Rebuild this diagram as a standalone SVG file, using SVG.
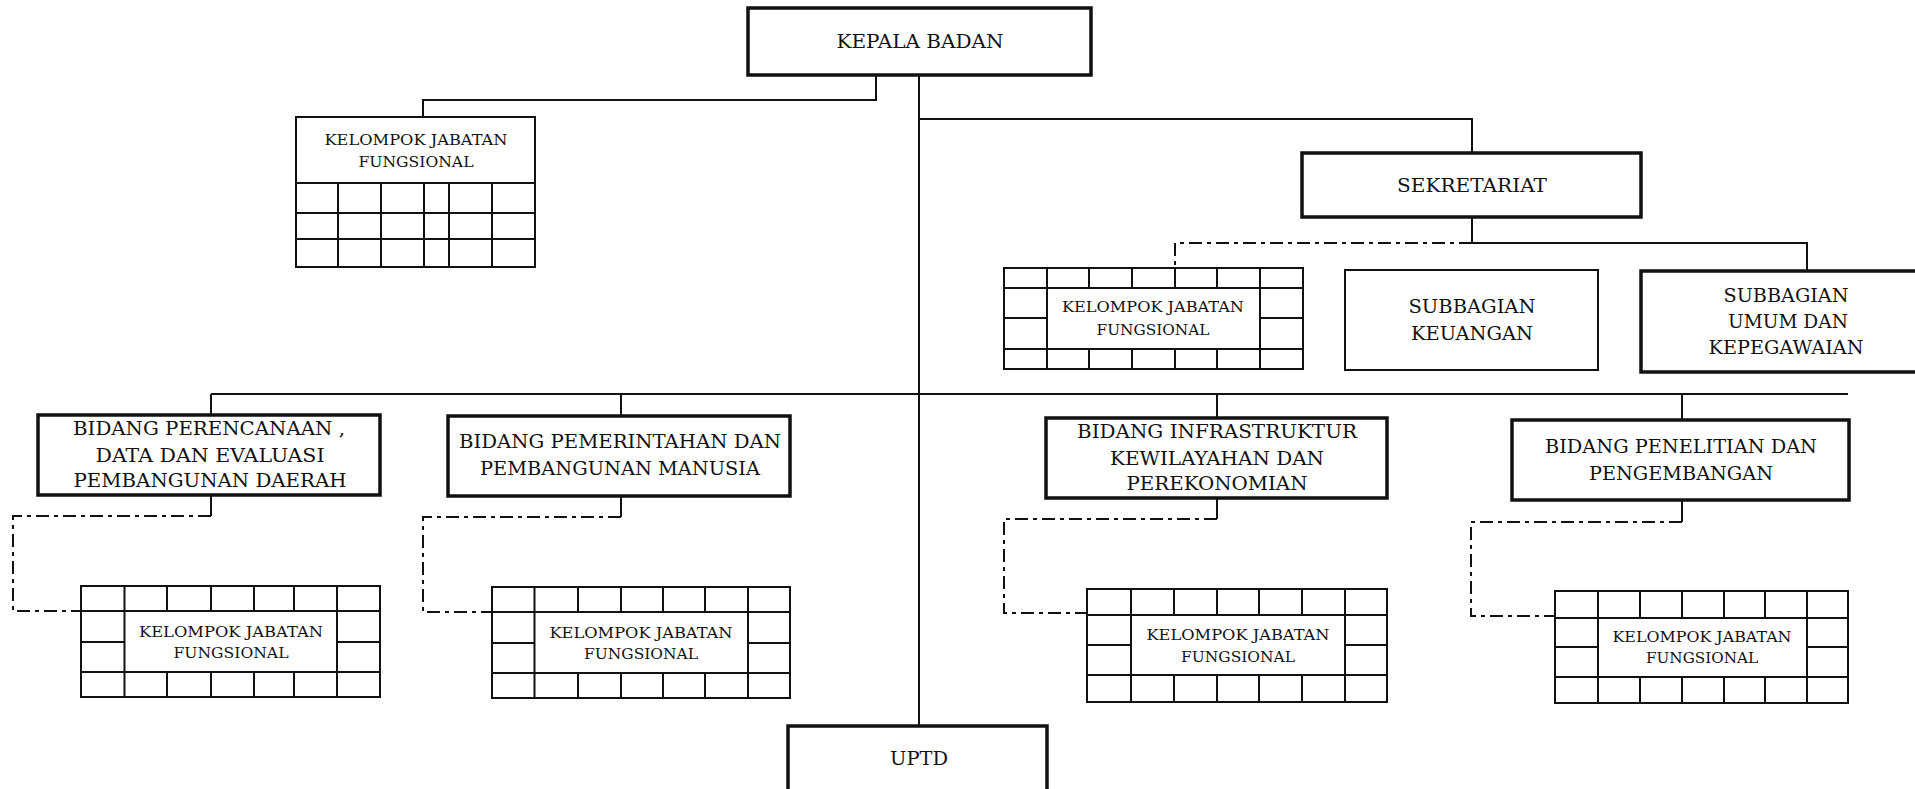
<svg xmlns="http://www.w3.org/2000/svg" width="1915" height="789" viewBox="0 0 1915 789">
<style>
.bx{fill:#fff;stroke:#111;stroke-width:3.5}
.bn{fill:#fff;stroke:#111;stroke-width:2}
.g{fill:none;stroke:#111;stroke-width:2}
.c{fill:none;stroke:#111;stroke-width:2}
.dd{stroke-dasharray:13 5 4 5}
.t{font-family:"DejaVu Serif","Liberation Serif",serif;font-size:18px;fill:#111;text-anchor:middle}
.s{font-size:14px}
</style>
<rect width="1915" height="789" fill="#fff"/>
<g id="connectors">
<path class="c" d="M876 75V100H423V117"/>
<path class="c" d="M919 75V726"/>
<path class="c" d="M919 119H1472V153"/>
<path class="c" d="M1472 217V243H1807V271"/>
<path class="c dd" d="M1472 243H1175V268"/>
<path class="c" d="M211 394H1848M211 394V415M621 394V416M1217 394V418M1682 394V420"/>
<path class="c" d="M211 495V516M621 496V517M1217 498V519M1682 500V522"/>
<path class="c dd" d="M211 516H13V611H81"/>
<path class="c dd" d="M621 517H423V612H492"/>
<path class="c dd" d="M1217 519H1004V613H1087"/>
<path class="c dd" d="M1682 522H1471V616H1555"/>
</g>
<g id="kepala-badan">
<rect class="bx" x="748" y="8" width="343" height="67"/>
<text class="t" x="920" y="48" textLength="167" lengthAdjust="spacingAndGlyphs">KEPALA BADAN</text>
</g>
<g id="kjf-kepala">
<rect class="bn" x="296" y="117" width="239" height="150"/>
<path class="g" d="M296 183H535M296 213H535M296 239H535M338 183V267M381 183V267M424 183V267M449 183V267M492 183V267"/>
<text class="t s" x="416" y="145" textLength="183" lengthAdjust="spacingAndGlyphs">KELOMPOK JABATAN</text>
<text class="t s" x="416" y="167" textLength="115" lengthAdjust="spacingAndGlyphs">FUNGSIONAL</text>
</g>
<g id="sekretariat">
<rect class="bx" x="1302" y="153" width="339" height="64"/>
<text class="t" x="1472" y="192" textLength="150" lengthAdjust="spacingAndGlyphs">SEKRETARIAT</text>
</g>
<g id="kjf-sekretariat">
<rect class="bn" x="1004" y="268" width="299" height="101"/>
<path class="g" d="M1004 288H1303M1004 349H1303M1004 318H1047M1260 318H1303M1047 268V369M1260 268V369M1089 268V288M1132 268V288M1175 268V288M1217 268V288M1089 349V369M1132 349V369M1175 349V369M1217 349V369"/>
<text class="t s" x="1153" y="312" textLength="182" lengthAdjust="spacingAndGlyphs">KELOMPOK JABATAN</text>
<text class="t s" x="1153" y="335" textLength="113" lengthAdjust="spacingAndGlyphs">FUNGSIONAL</text>
</g>
<g id="subbagian-keuangan">
<rect class="bn" x="1345" y="270" width="253" height="100"/>
<text class="t" x="1472" y="313" textLength="127" lengthAdjust="spacingAndGlyphs">SUBBAGIAN</text>
<text class="t" x="1472" y="340" textLength="122" lengthAdjust="spacingAndGlyphs">KEUANGAN</text>
</g>
<g id="subbagian-umum">
<rect class="bx" x="1641" y="271" width="300" height="101"/>
<text class="t" x="1786" y="302" textLength="125" lengthAdjust="spacingAndGlyphs">SUBBAGIAN</text>
<text class="t" x="1788" y="328" textLength="120" lengthAdjust="spacingAndGlyphs">UMUM DAN</text>
<text class="t" x="1786" y="354" textLength="155" lengthAdjust="spacingAndGlyphs">KEPEGAWAIAN</text>
</g>
<g id="bidang-perencanaan">
<rect class="bx" x="38" y="415" width="342" height="80"/>
<text class="t" x="209" y="435" textLength="272" lengthAdjust="spacingAndGlyphs">BIDANG PERENCANAAN ,</text>
<text class="t" x="210" y="462" textLength="229" lengthAdjust="spacingAndGlyphs">DATA DAN EVALUASI</text>
<text class="t" x="210" y="487" textLength="273" lengthAdjust="spacingAndGlyphs">PEMBANGUNAN DAERAH</text>
</g>
<g id="bidang-pemerintahan">
<rect class="bx" x="448" y="416" width="342" height="80"/>
<text class="t" x="620" y="448" textLength="322" lengthAdjust="spacingAndGlyphs">BIDANG PEMERINTAHAN DAN</text>
<text class="t" x="620" y="475" textLength="280" lengthAdjust="spacingAndGlyphs">PEMBANGUNAN MANUSIA</text>
</g>
<g id="bidang-infrastruktur">
<rect class="bx" x="1046" y="418" width="341" height="80"/>
<text class="t" x="1217" y="438" textLength="280" lengthAdjust="spacingAndGlyphs">BIDANG INFRASTRUKTUR</text>
<text class="t" x="1217" y="465" textLength="214" lengthAdjust="spacingAndGlyphs">KEWILAYAHAN DAN</text>
<text class="t" x="1217" y="490" textLength="181" lengthAdjust="spacingAndGlyphs">PEREKONOMIAN</text>
</g>
<g id="bidang-penelitian">
<rect class="bx" x="1512" y="420" width="337" height="80"/>
<text class="t" x="1681" y="453" textLength="272" lengthAdjust="spacingAndGlyphs">BIDANG PENELITIAN DAN</text>
<text class="t" x="1681" y="480" textLength="184" lengthAdjust="spacingAndGlyphs">PENGEMBANGAN</text>
</g>
<g id="kjf-bidang-1">
<rect class="bn" x="81" y="586" width="299" height="111"/>
<path class="g" d="M81 611H380M81 672H380M81 642H124.5M337 642H380M124.5 586V697M337 586V697M167 586V611M211 586V611M254 586V611M294 586V611M167 672V697M211 672V697M254 672V697M294 672V697"/>
<text class="t s" x="231" y="637" textLength="184" lengthAdjust="spacingAndGlyphs">KELOMPOK JABATAN</text>
<text class="t s" x="231" y="658" textLength="115" lengthAdjust="spacingAndGlyphs">FUNGSIONAL</text>
</g>
<g id="kjf-bidang-2">
<rect class="bn" x="492" y="587" width="298" height="111"/>
<path class="g" d="M492 612H790M492 673H790M492 643H534.5M748 643H790M534.5 587V698M748 587V698M578 587V612M621 587V612M663 587V612M705 587V612M578 673V698M621 673V698M663 673V698M705 673V698"/>
<text class="t s" x="641" y="638" textLength="183" lengthAdjust="spacingAndGlyphs">KELOMPOK JABATAN</text>
<text class="t s" x="641" y="659" textLength="114" lengthAdjust="spacingAndGlyphs">FUNGSIONAL</text>
</g>
<g id="kjf-bidang-3">
<rect class="bn" x="1087" y="589" width="300" height="113"/>
<path class="g" d="M1087 615H1387M1087 675H1387M1087 645H1131M1345 645H1387M1131 589V702M1345 589V702M1174 589V615M1217 589V615M1259 589V615M1302 589V615M1174 675V702M1217 675V702M1259 675V702M1302 675V702"/>
<text class="t s" x="1238" y="640" textLength="183" lengthAdjust="spacingAndGlyphs">KELOMPOK JABATAN</text>
<text class="t s" x="1238" y="662" textLength="114" lengthAdjust="spacingAndGlyphs">FUNGSIONAL</text>
</g>
<g id="kjf-bidang-4">
<rect class="bn" x="1555" y="591" width="293" height="112"/>
<path class="g" d="M1555 618H1848M1555 677H1848M1555 647H1598M1807 647H1848M1598 591V703M1807 591V703M1640 591V618M1682 591V618M1724 591V618M1765 591V618M1640 677V703M1682 677V703M1724 677V703M1765 677V703"/>
<text class="t s" x="1702" y="642" textLength="179" lengthAdjust="spacingAndGlyphs">KELOMPOK JABATAN</text>
<text class="t s" x="1702" y="663" textLength="112" lengthAdjust="spacingAndGlyphs">FUNGSIONAL</text>
</g>
<g id="uptd">
<rect class="bx" x="788" y="726" width="259" height="80"/>
<text class="t" x="919" y="765" textLength="58" lengthAdjust="spacingAndGlyphs">UPTD</text>
</g>
</svg>
